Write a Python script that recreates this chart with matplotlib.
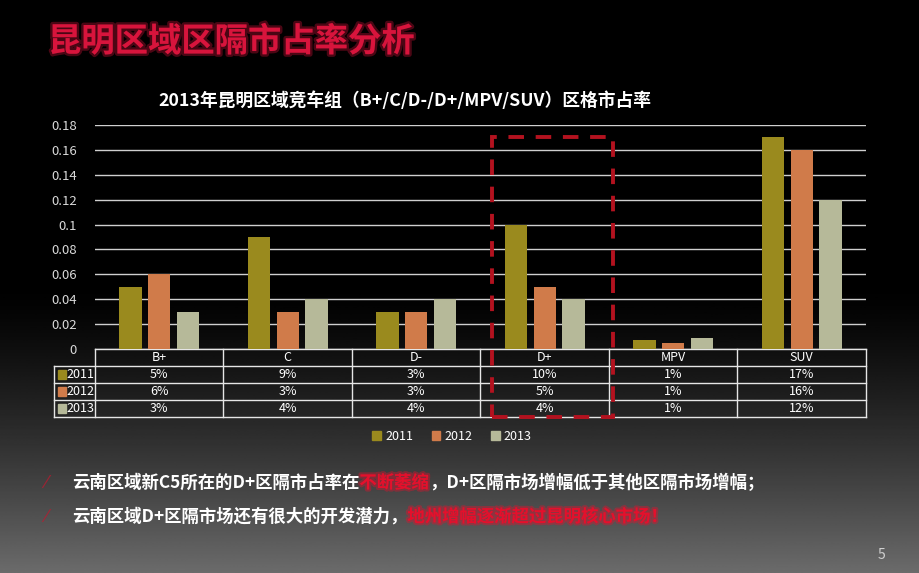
import numpy as np
import matplotlib.pyplot as plt
from matplotlib import patheffects as pe
from matplotlib.patches import Rectangle
from matplotlib.ticker import FuncFormatter

plt.rcParams['font.family'] = ['Noto Sans CJK SC', 'DejaVu Sans']

categories = ["B+", "C", "D-", "D+", "MPV", "SUV"]
years = ["2011", "2012", "2013"]
share_2011 = [0.05, 0.09, 0.03, 0.10, 0.007, 0.17]
share_2012 = [0.06, 0.03, 0.03, 0.05, 0.005, 0.16]
share_2013 = [0.03, 0.04, 0.04, 0.04, 0.009, 0.12]
table_2011 = ["5%", "9%", "3%", "10%", "1%", "17%"]
table_2012 = ["6%", "3%", "3%", "5%", "1%", "16%"]
table_2013 = ["3%", "4%", "4%", "4%", "1%", "12%"]
colors = ["#9a8a1e", "#d07b4a", "#b6b999"]

fig = plt.figure(figsize=(9.2, 5.73), dpi=100)

# background gradient: black top, grey bottom
bg = fig.add_axes([0, 0, 1, 1], zorder=-10)
ys = np.linspace(0, 1, 400)
shade = np.clip((ys - 0.5) / 0.5, 0, 1) ** 1.3 * 0.42
grad = np.tile(shade[:, None], (1, 2))
bg.imshow(grad, cmap="gray", vmin=0, vmax=1, aspect="auto",
          extent=[0, 1, 1, 0], origin="upper")
bg.set_xlim(0, 1)
bg.set_ylim(1, 0)
bg.axis("off")

# slide title
fig.text(48 / 920, 1 - 42 / 573, "昆明区域区隔市占率分析", color="#d8143c",
         fontsize=24, fontweight="bold", va="center", ha="left",
         path_effects=[pe.withStroke(linewidth=3.5, foreground="#d8143c",
                                     alpha=0.35)])

ax = fig.add_axes([95 / 920, 1 - 349 / 573, 771 / 920, 224 / 573])
ax.set_facecolor("none")
x = np.arange(len(categories))
w = 0.175
step = 0.222
for k, (vals, c) in enumerate(zip([share_2011, share_2012, share_2013], colors)):
    ax.bar(x + (k - 1) * step, vals, width=w, color=c, zorder=3, label=years[k])

ax.set_xlim(-0.5, len(categories) - 0.5)
ax.set_ylim(0, 0.18)
ax.set_yticks(np.arange(0, 0.181, 0.02))
ax.yaxis.set_major_formatter(FuncFormatter(lambda v, p: "%g" % round(v, 2)))
ax.tick_params(axis="y", colors="#d9d9d9", labelsize=9.5, length=0, pad=13)
ax.set_xticks([])
ax.grid(axis="y", color="#cfcfcf", linewidth=1)
for s in ax.spines.values():
    s.set_visible(False)

ax.set_title("2013年昆明区域竞车组（B+/C/D-/D+/MPV/SUV）区格市占率",
             color="white", fontsize=12.8, fontweight="bold", pad=14,
             x=(405 - 95) / 771)

# data table under the axis
tr = ax.get_xaxis_transform()
r = 17 / 224
left_lbl = -0.5 - 41 / 128.5
right = len(categories) - 0.5
lc = "#e6e6e6"
ax.plot([-0.5, right], [0, 0], color=lc, lw=1, transform=tr, clip_on=False)
for j in range(1, 5):
    ax.plot([left_lbl, right], [-j * r, -j * r], color=lc, lw=1,
            transform=tr, clip_on=False)
for xv in np.arange(-0.5, right + 0.01, 1):
    ax.plot([xv, xv], [0, -4 * r], color=lc, lw=1, transform=tr, clip_on=False)
ax.plot([left_lbl, left_lbl], [-r, -4 * r], color=lc, lw=1,
        transform=tr, clip_on=False)

for i, cat in enumerate(categories):
    ax.text(i, -0.5 * r, cat, transform=tr, ha="center", va="center",
            color="white", fontsize=9)
rows = [table_2011, table_2012, table_2013]
for j, (row, yr, c) in enumerate(zip(rows, years, colors)):
    yc = -(j + 1.5) * r
    for i, val in enumerate(row):
        ax.text(i, yc, val, transform=tr, ha="center", va="center",
                color="white", fontsize=9)
    ax.add_patch(Rectangle((left_lbl + 0.03, yc - 0.022), 0.06, 0.044,
                           transform=tr, color=c, clip_on=False))
    ax.text(left_lbl + 0.1, yc, yr, transform=tr, ha="left", va="center",
            color="white", fontsize=9)

# dashed highlight box around D+
ax.add_patch(Rectangle((2.59, -4 * r), 0.94, 0.946 + 4 * r, transform=tr,
                       fill=False, edgecolor="#b3121f", lw=2.8,
                       linestyle=(0, (4, 3)), clip_on=False, zorder=5))

handles = [Rectangle((0, 0), 1, 1, color=c) for c in colors]
fig.legend(handles, years, loc="center", bbox_to_anchor=(452 / 920, 1 - 436 / 573),
           ncol=3, frameon=False, labelcolor="white", fontsize=9,
           handlelength=0.7, handleheight=0.7, handletextpad=0.3,
           columnspacing=1.5)

# bullet text
red = "#e4102c"
glow = [pe.withStroke(linewidth=3, foreground=red, alpha=0.4)]
lines = [
    [("云南区域新C5所在的D+区隔市占率在", "white"), ("不断萎缩", red),
     ("，D+区隔市场增幅低于其他区隔市场增幅；", "white")],
    [("云南区域D+区隔市场还有很大的开发潜力，", "white"),
     ("地州增幅逐渐超过昆明核心市场！", red)],
]
for n, parts in enumerate(lines):
    yy = 1 - (483 + n * 34) / 573
    fig.text(44 / 920, yy, "⁄", color="#c0182e", fontsize=13, va="center",
             ha="left", family=["DejaVu Sans"], alpha=0.7)
    last = None
    for txt, c in parts:
        kw = dict(color=c, fontsize=12.5, fontweight="bold", va="center",
                  path_effects=glow if c == red else None)
        if last is None:
            last = fig.text(72 / 920, yy, txt, ha="left", **kw)
        else:
            last = fig.add_artist(plt.Annotation(
                txt, xy=(1, 0.5), xycoords=last, ha="left",
                annotation_clip=False, **kw))

fig.text(878 / 920, 1 - 555 / 573, "5", color="#d0d0d0", fontsize=10,
         ha="left", va="center")

fig.savefig("out.png", dpi=100, facecolor="black")
